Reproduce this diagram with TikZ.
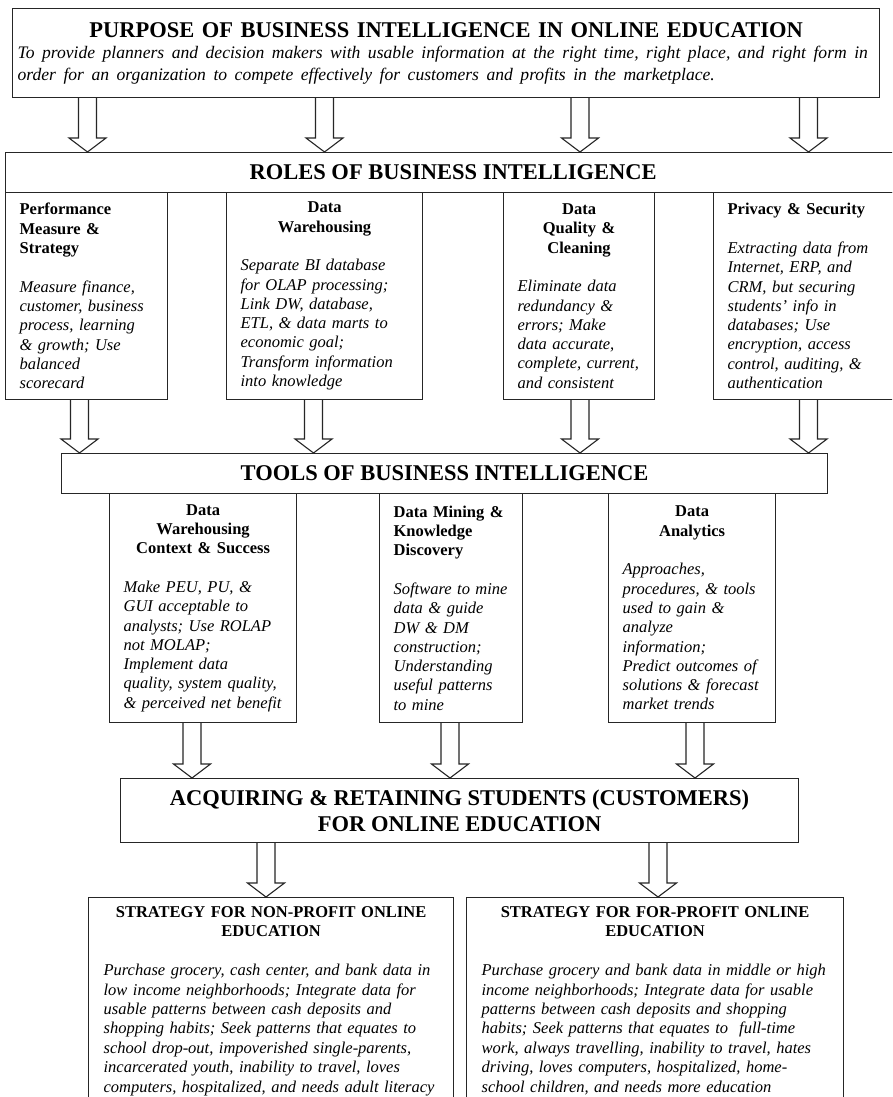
\documentclass[tikz,border=0pt]{standalone}
\usepackage{fontspec}
\setmainfont{Liberation Serif}
\usetikzlibrary{calc}
\setlength{\parindent}{0pt}

\newcommand{\hdrfont}{\fontsize{22.5}{26}\selectfont\bfseries}
\newcommand{\txtfont}{\fontsize{16.5}{19.3}\selectfont}
\newcommand{\stratfont}{\fontsize{16.5}{19.4}\selectfont}
\newcommand{\topfont}{\fontsize{17.6}{21.5}\selectfont\mdseries\itshape}
\newcommand{\boxtitle}[1]{{\centering\bfseries #1\par}\vspace{\baselineskip}}
\newcommand{\lefttitle}[1]{{\bfseries #1\par}\vspace{\baselineskip}}
\newcommand{\boxbody}[1]{{\itshape\rightskip=0pt minus 40pt #1\par}}
\newcommand{\fatarrow}[2]{%
  \draw[fat] ($(#1)+(-9,0)$) -- ($(#2)+(-9,-14)$) -- ($(#2)+(-18.5,-14)$) -- (#2)
    -- ($(#2)+(18.5,-14)$) -- ($(#2)+(9,-14)$) -- ($(#1)+(9,0)$);}

\begin{document}
\begin{tikzpicture}[x=1pt,y=-1pt,
    box/.style={draw=black!85,line width=1.2pt,anchor=north west,inner xsep=14pt,inner ysep=0pt,font=\txtfont},
    hdr/.style={draw=black!85,line width=1.2pt,anchor=north west,inner sep=0pt,font=\hdrfont},
    fat/.style={draw=black!85,line width=1.1pt,line join=miter}]

  \useasboundingbox (0,0) rectangle (892,1097);
  \clip (0,0) rectangle (892,1097);
  \fill[white] (0,0) rectangle (892,1097);

  % purpose
  \node[hdr,minimum width=867pt,minimum height=89pt,text width=857pt,inner xsep=5pt] (purpose) at (12,8)
    {{\centering PURPOSE OF BUSINESS INTELLIGENCE IN ONLINE EDUCATION\par}
     {\topfont\rightskip=0pt minus 40pt To provide planners and decision makers with usable information at the right time, right place, and right form in\\
      order for an organization to compete effectively for customers and profits in the marketplace.\par}};

  % roles
  \node[hdr,minimum width=895pt,minimum height=40pt] (roles) at (5,152) {ROLES OF BUSINESS INTELLIGENCE};

  \node[box,minimum height=207pt,text width=134pt] (perf) at (5,192)
    {\lefttitle{Performance\\Measure \&\\Strategy}
     \boxbody{Measure finance,\\customer, business\\process, learning\\\& growth; Use\\balanced\\scorecard}};
  \node[box,minimum height=207pt,text width=168pt] (warehouse) at (226,192)
    {\boxtitle{Data\\Warehousing}
     \boxbody{Separate BI database\\for OLAP processing;\\Link DW, database,\\ETL, \& data marts to\\economic goal;\\Transform information\\into knowledge}};
  \node[box,minimum height=207pt,text width=123pt] (quality) at (503,192)
    {\boxtitle{Data\\Quality \&\\Cleaning}
     \boxbody{Eliminate data\\redundancy \&\\errors; Make\\data accurate,\\complete, current,\\and consistent}};
  \node[box,minimum height=207pt,text width=162pt] (privacy) at (713,192)
    {\lefttitle{Privacy \& Security}
     \boxbody{Extracting data from\\Internet, ERP, and\\CRM, but securing\\students' info in\\databases; Use\\encryption, access\\control, auditing, \&\\authentication}};

  % tools
  \node[hdr,minimum width=766pt,minimum height=40pt] (tools) at (61,453) {TOOLS OF BUSINESS INTELLIGENCE};

  \node[box,minimum height=229pt,text width=159pt] (dwctx) at (109,493)
    {\boxtitle{Data\\Warehousing\\Context \& Success}
     \boxbody{Make PEU, PU, \&\\GUI acceptable to\\analysts; Use ROLAP\\not MOLAP;\\Implement data\\quality, system quality,\\\& perceived net benefit}};
  \node[box,minimum height=229pt,text width=115pt] (mining) at (379,493)
    {\lefttitle{Data Mining \&\\Knowledge\\Discovery}
     \boxbody{Software to mine\\data \& guide\\DW \& DM\\construction;\\Understanding\\useful patterns\\to mine}};
  \node[box,minimum height=229pt,text width=139pt] (analytics) at (608,493)
    {\boxtitle{Data\\Analytics}
     \boxbody{Approaches,\\procedures, \& tools\\used to gain \&\\analyze\\information;\\Predict outcomes of\\solutions \& forecast\\market trends}};

  % acquiring
  \node[hdr,minimum width=678pt,minimum height=64pt,align=center] (acquire) at (120,778)
    {ACQUIRING \& RETAINING STUDENTS (CUSTOMERS)\\FOR ONLINE EDUCATION};

  % strategies
  \node[box,text width=335pt,inner xsep=15pt,inner ysep=9pt,font=\stratfont] (nonprofit) at (88,897)
    {\boxtitle{STRATEGY FOR NON-PROFIT ONLINE\\EDUCATION}
     \boxbody{Purchase grocery, cash center, and bank data in\\low income neighborhoods; Integrate data for\\usable patterns between cash deposits and\\shopping habits; Seek patterns that equates to\\school drop-out, impoverished single-parents,\\incarcerated youth, inability to travel, loves\\computers, hospitalized, and needs adult literacy}};
  \node[box,text width=347pt,inner xsep=15pt,inner ysep=9pt,font=\stratfont] (forprofit) at (466,897)
    {\boxtitle{STRATEGY FOR FOR-PROFIT ONLINE\\EDUCATION}
     \boxbody{Purchase grocery and bank data in middle or high\\income neighborhoods; Integrate data for usable\\patterns between cash deposits and shopping\\habits; Seek patterns that equates to~ full-time\\work, always travelling, inability to travel, hates\\driving, loves computers, hospitalized, home-\\school children, and needs more education}};

  % arrow columns
  \coordinate (t1) at (87.5,0);
  \coordinate (t2) at (324.5,0);
  \coordinate (t3) at (580,0);
  \coordinate (t4) at (808.5,0);
  \coordinate (m1) at (79.5,0);
  \coordinate (m2) at (313.5,0);
  \coordinate (l1) at (192,0);
  \coordinate (l2) at (450,0);
  \coordinate (l3) at (695,0);
  \coordinate (b1) at (266,0);
  \coordinate (b2) at (658,0);

  \fatarrow{purpose.south -| t1}{roles.north -| t1}
  \fatarrow{purpose.south -| t2}{roles.north -| t2}
  \fatarrow{purpose.south -| t3}{roles.north -| t3}
  \fatarrow{purpose.south -| t4}{roles.north -| t4}

  \fatarrow{perf.south -| m1}{tools.north -| m1}
  \fatarrow{warehouse.south -| m2}{tools.north -| m2}
  \fatarrow{quality.south -| t3}{tools.north -| t3}
  \fatarrow{privacy.south -| t4}{tools.north -| t4}

  \fatarrow{dwctx.south -| l1}{acquire.north -| l1}
  \fatarrow{mining.south -| l2}{acquire.north -| l2}
  \fatarrow{analytics.south -| l3}{acquire.north -| l3}

  \fatarrow{acquire.south -| b1}{nonprofit.north -| b1}
  \fatarrow{acquire.south -| b2}{forprofit.north -| b2}
\end{tikzpicture}
\end{document}
